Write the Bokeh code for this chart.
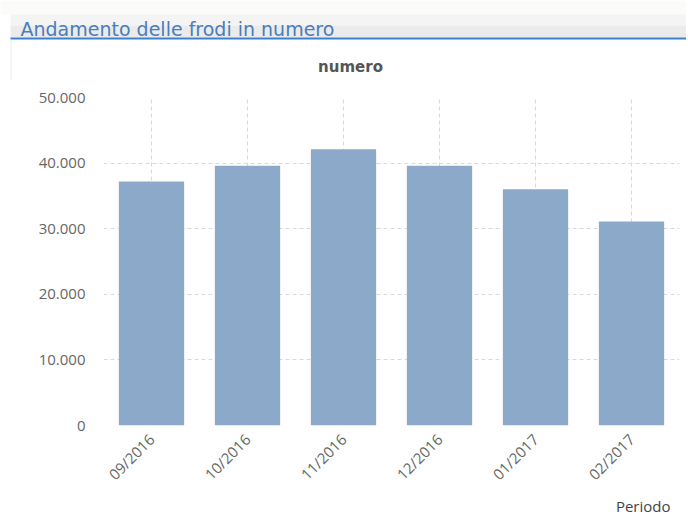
from bokeh.plotting import figure
from bokeh.layouts import column
from bokeh.models import (FactorRange, Range1d, FixedTicker, CustomJSTickFormatter,
                          Title, ColumnDataSource)
from bokeh.core.properties import value
from bokeh.embed import file_html
from bokeh.resources import INLINE
import math

# ---- data ----
periods = ["09/2016", "10/2016", "11/2016", "12/2016", "01/2017", "02/2017"]
numero = [37200, 39600, 42100, 39600, 36000, 31100]
y_ticks = [0, 10000, 20000, 30000, 40000, 50000]

header_title = "Andamento delle frodi in numero"
chart_title = "numero"
x_label = "Periodo"

W = 686

# ---- header panel (pixel coordinates, y downward) ----
h = figure(width=W, height=80, output_backend="svg", toolbar_location=None,
           x_range=Range1d(0, W), y_range=Range1d(80, 0),
           min_border=0, min_border_left=0, min_border_right=0,
           min_border_top=0, min_border_bottom=0)
h.frame_align = False
h.axis.visible = False
h.grid.visible = False
h.outline_line_color = None
h.background_fill_color = "white"
h.border_fill_color = "white"
h.quad(left=[0], right=[W], top=[0], bottom=[14], fill_color="#fbfbfa", line_color=None)
h.quad(left=[10], right=[W], top=[14], bottom=[25], fill_color="#f4f4f4", line_color=None)
h.quad(left=[10], right=[W], top=[25], bottom=[37], fill_color="#ebebeb", line_color=None)
h.quad(left=[10], right=[W], top=[37], bottom=[39], fill_color="#3d80cc", line_color=None)
h.quad(left=[10], right=[11], top=[39], bottom=[80], fill_color="#ececec", line_color=None)
h.text(x=[20], y=[28], text=[header_title], text_color="#4a7dbd",
       text_font=value("DejaVu Sans"), text_font_size="19px",
       text_baseline="alphabetic", text_align="left")
h.text(x=[350], y=[66], text=[chart_title], text_color="#555555",
       text_font=value("DejaVu Sans"), text_font_size="15px", text_font_style="bold",
       text_baseline="alphabetic", text_align="center")

# ---- main chart ----
src = ColumnDataSource(data=dict(periodo=periods, numero=numero))

p = figure(width=W, height=438, output_backend="svg", toolbar_location=None,
           x_range=FactorRange(*periods, range_padding=0),
           y_range=Range1d(0, 50000),
           min_border_left=103, min_border_right=7,
           min_border_top=17, min_border_bottom=93)
p.frame_align = False
p.outline_line_color = None
p.background_fill_color = "white"
p.border_fill_color = "white"

p.vbar(x="periodo", top="numero", width=0.68, source=src,
       fill_color="#8DA9CA", line_color=None)

p.yaxis.ticker = FixedTicker(ticks=y_ticks)
p.yaxis.formatter = CustomJSTickFormatter(code="""
    return tick.toFixed(0).replace(/\\B(?=(\\d{3})+(?!\\d))/g, '.');
""")
for ax in (p.xaxis[0], p.yaxis[0]):
    ax.axis_line_color = None
    ax.major_tick_line_color = None
    ax.minor_tick_line_color = None
    ax.major_label_text_color = "#666666"
    ax.major_label_text_font = "Open Sans"
    ax.major_label_text_font_size = "15px"
p.yaxis.major_label_standoff = 12
p.xaxis.major_label_orientation = math.pi / 4
p.xaxis.major_label_standoff = 5

p.ygrid.grid_line_color = "#d9d9d9"
p.ygrid.grid_line_dash = "4 3"
p.xgrid.grid_line_color = "#d9d9d9"
p.xgrid.grid_line_dash = "4 3"

p.add_layout(Title(text=x_label, align="right", offset=9, standoff=0,
                   text_color="#444444", text_font="Open Sans",
                   text_font_size="15px", text_font_style="normal"), "below")

layout = column(h, p, spacing=0)
open("out.html", "w").write(file_html(layout, INLINE))
